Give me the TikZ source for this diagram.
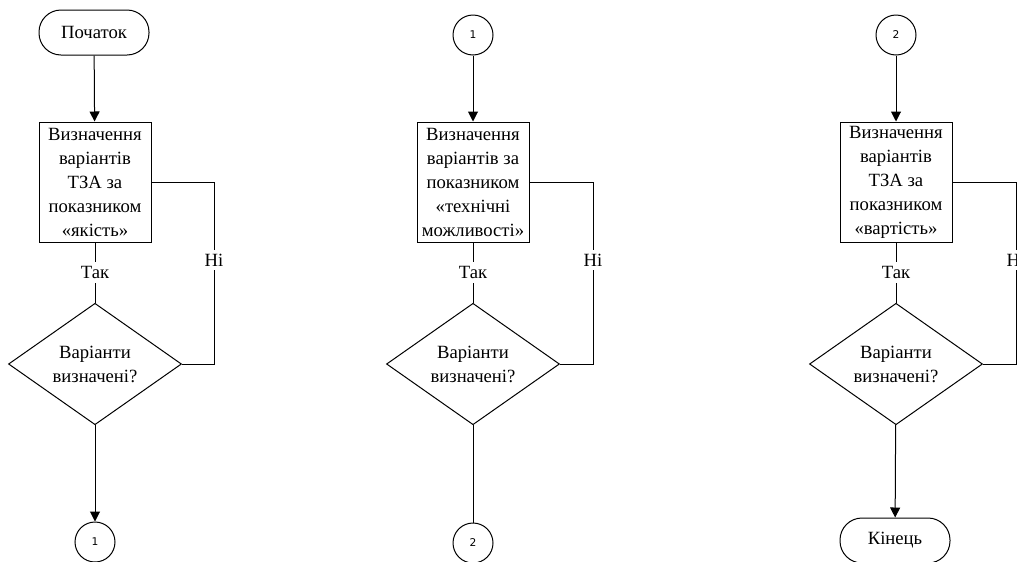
\documentclass[tikz,border=0pt]{standalone}
\usepackage{fontspec}
\setmainfont{Liberation Serif}
\newfontfamily\digitfont{DejaVu Sans}
\usetikzlibrary{shapes.geometric,arrows.meta}
\begin{document}
\begin{tikzpicture}[x=0.75pt,y=-0.75pt,
  line width=0.75pt,
  every node/.style={font=\fontsize{14}{18}\selectfont},
  term/.style={draw,rounded corners=16.5pt,minimum width=82.5pt,minimum height=33.75pt,inner sep=0pt},
  procbox/.style={draw,minimum width=84pt,minimum height=90pt,align=center,inner sep=1pt},
  decis/.style={draw,diamond,minimum width=129.75pt,minimum height=82.5pt,align=center,inner sep=0pt},
  conn/.style={draw,circle,minimum size=30pt,inner sep=0pt,font=\digitfont\fontsize{8}{9}\selectfont},
  lbl/.style={fill=white,inner sep=3pt},
  arr/.style={-{Triangle[length=7.5pt,width=7.5pt]}}]
\useasboundingbox (0,0) rectangle (1017,561);
% column 1
\node[term] (start) at (94,32.5) {Початок};
\node[procbox] (box1) at (95,182) {Визначення\\варіантів\\ТЗА за\\показником\\«якість»};
\node[decis] (dia1) at (95,364) {Варіанти\\визначені?};
\node[conn] (c1out) at (95,542) {1};
\coordinate (r1a) at (214,182);
\coordinate (r1b) at (214,364);
\draw[arr] (start) -- (box1);
\draw (box1) -- node[lbl]{Так} (dia1);
\draw (box1.east) -- (r1a) -- node[lbl,pos=0.43]{Ні} (r1b) -- (dia1.east);
\draw[arr] (dia1) -- (c1out);
% column 2
\node[conn] (c1in) at (473,35) {1};
\node[procbox] (box2) at (473,182) {Визначення\\варіантів за\\показником\\«технічні\\можливості»};
\node[decis] (dia2) at (473,364) {Варіанти\\визначені?};
\node[conn] (c2out) at (473,543) {2};
\coordinate (r2a) at (593,182);
\coordinate (r2b) at (593,364);
\draw[arr] (c1in) -- (box2);
\draw (box2) -- node[lbl]{Так} (dia2);
\draw (box2.east) -- (r2a) -- node[lbl,pos=0.43]{Ні} (r2b) -- (dia2.east);
\draw (dia2) -- (c2out);
% column 3
\node[conn] (c2in) at (896,35) {2};
\node[procbox] (box3) at (896,182) {Визначення\\варіантів\\ТЗА за\\показником\\«вартість»};
\node[decis] (dia3) at (896,364) {Варіанти\\визначені?};
\node[term] (finish) at (895,540.5) {Кінець};
\coordinate (r3a) at (1016,182);
\coordinate (r3b) at (1016,364);
\draw[arr] (c2in) -- (box3);
\draw (box3) -- node[lbl]{Так} (dia3);
\draw (box3.east) -- (r3a) -- node[lbl,pos=0.43]{Ні} (r3b) -- (dia3.east);
\draw[arr] (dia3) -- (finish);
\end{tikzpicture}
\end{document}
